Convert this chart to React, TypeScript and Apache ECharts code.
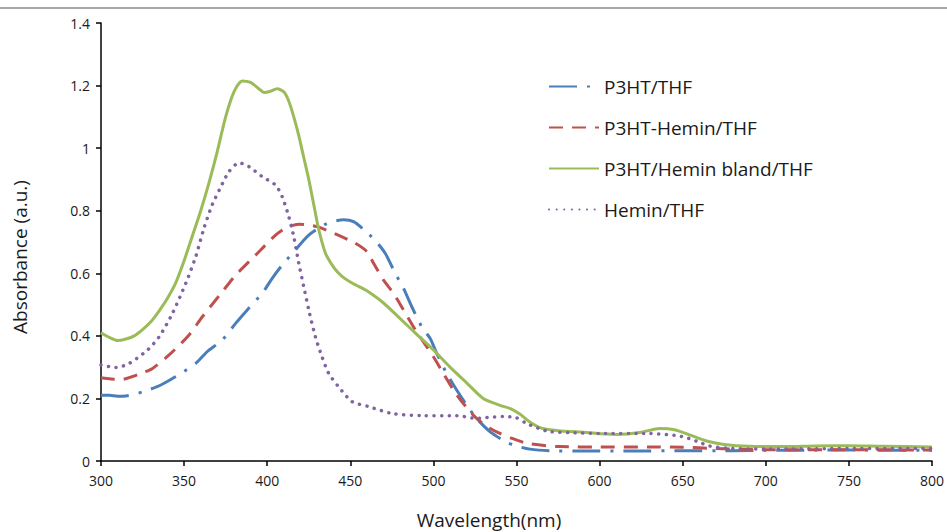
import React, { useEffect, useRef } from "react";
import * as echarts from "echarts";

const seriesNames = ["P3HT/THF", "P3HT-Hemin/THF", "P3HT/Hemin bland/THF", "Hemin/THF"];
const xTitle = "Wavelength(nm)";
const yTitle = "Absorbance (a.u.)";
const xTicks = { min: 300, max: 800, interval: 50 };
const yTicks = { min: 0, max: 1.4, interval: 0.2 };

const blueX = [300, 305, 310, 315, 320, 325, 330, 336, 345, 357, 364, 373, 381, 388, 397, 403, 409, 416, 425, 434, 440, 446, 452, 458, 465, 471, 477, 482, 487, 493, 498, 502, 508, 514, 520, 526, 534, 544, 550, 558, 570, 590, 620, 650, 680, 700, 750, 800];
const blueY = [0.21, 0.21, 0.207, 0.208, 0.213, 0.221, 0.23, 0.243, 0.27, 0.312, 0.35, 0.387, 0.44, 0.483, 0.536, 0.584, 0.626, 0.669, 0.722, 0.754, 0.766, 0.771, 0.765, 0.74, 0.705, 0.664, 0.6, 0.552, 0.493, 0.429, 0.392, 0.344, 0.28, 0.227, 0.179, 0.136, 0.094, 0.06, 0.048, 0.038, 0.033, 0.032, 0.032, 0.033, 0.033, 0.034, 0.035, 0.034];

const redX = [300, 306, 313, 319, 325, 331, 341, 353, 361, 373, 381, 393, 405, 411, 419, 430, 441, 453, 460, 464, 470, 476, 482, 488, 494, 500, 506, 512, 518, 526, 534, 540, 546, 556, 576, 600, 630, 650, 670, 700, 750, 800];
const redY = [0.266, 0.262, 0.261, 0.27, 0.282, 0.296, 0.339, 0.403, 0.461, 0.541, 0.594, 0.658, 0.722, 0.744, 0.757, 0.749, 0.726, 0.696, 0.669, 0.632, 0.578, 0.536, 0.483, 0.429, 0.381, 0.333, 0.28, 0.227, 0.184, 0.136, 0.105, 0.088, 0.075, 0.057, 0.046, 0.045, 0.045, 0.044, 0.04, 0.036, 0.036, 0.035];

const greenX = [300, 305, 310, 315, 320, 325, 330, 335, 340, 345, 350, 355, 360, 365, 370, 375, 380, 385, 390, 395, 398, 402, 406, 410, 413, 416, 419, 422, 425, 428, 431, 435, 438, 441, 445, 450, 455, 460, 470, 480, 490, 500, 510, 520, 530, 540, 546, 552, 558, 565, 575, 590, 610, 625, 636, 645, 655, 665, 675, 690, 710, 730, 750, 770, 800];
const greenY = [0.41, 0.395, 0.385, 0.39, 0.4, 0.42, 0.445, 0.48, 0.52, 0.57, 0.64, 0.72, 0.8, 0.89, 0.99, 1.1, 1.18, 1.215, 1.21, 1.19, 1.178, 1.182, 1.19, 1.18, 1.15, 1.1, 1.04, 0.97, 0.9, 0.82, 0.74, 0.665, 0.635, 0.612, 0.59, 0.572, 0.558, 0.544, 0.505, 0.455, 0.405, 0.355, 0.3, 0.25, 0.2, 0.178, 0.168, 0.15, 0.125, 0.105, 0.097, 0.092, 0.085, 0.092, 0.104, 0.1, 0.082, 0.063, 0.053, 0.047, 0.046, 0.048, 0.049, 0.047, 0.045];

const purpleX = [300, 309, 317, 328, 335, 343, 351, 357, 362, 367, 372, 377, 383, 389, 397, 405, 409, 413, 416, 419, 422, 425, 429, 433, 437, 443, 451, 461, 475, 494, 514, 526, 534, 542, 550, 556, 563, 570, 585, 600, 630, 645, 652, 660, 666, 680, 700, 750, 800];
const purpleY = [0.307, 0.299, 0.312, 0.355, 0.397, 0.472, 0.568, 0.653, 0.745, 0.82, 0.875, 0.925, 0.953, 0.941, 0.909, 0.882, 0.845, 0.781, 0.717, 0.632, 0.557, 0.483, 0.397, 0.333, 0.28, 0.237, 0.19, 0.174, 0.152, 0.145, 0.145, 0.136, 0.14, 0.142, 0.138, 0.12, 0.105, 0.094, 0.09, 0.088, 0.088, 0.082, 0.075, 0.06, 0.048, 0.04, 0.038, 0.04, 0.04];

const pairs = (xs: number[], ys: number[]) => xs.map((x, i) => [x, ys[i]]);

const font = "'Open Sans', 'Noto Sans', sans-serif";

export default function App() {
  const ref = useRef<HTMLDivElement>(null);
  useEffect(() => {
    if (!ref.current) return;
    const chart = echarts.init(ref.current, undefined, { renderer: "svg" });
    const mk = (name: string, xs: number[], ys: number[], color: string, type: any, width = 3, cap: any = "butt") => ({
      name,
      type: "line",
      data: pairs(xs, ys),
      smooth: 0.25,
      symbol: "none",
      lineStyle: { color, width, type, cap },
      itemStyle: { color },
    });
    chart.setOption({
      animation: false,
      backgroundColor: "#ffffff",
      grid: { left: 101, right: 15, top: 23, bottom: 71 },
      graphic: [
        { type: "rect", left: 0, top: 7, shape: { width: 947, height: 2 }, style: { fill: "#a6a6a6" }, silent: true },
        {
          type: "text",
          x: 489,
          y: 520,
          style: { text: xTitle, fontFamily: font, fontSize: 19, fill: "#1a1a1a", textAlign: "center", textVerticalAlign: "middle" },
          silent: true,
        },
        {
          type: "text",
          x: 20,
          y: 257,
          rotation: Math.PI / 2,
          style: { text: yTitle, fontFamily: font, fontSize: 19, fill: "#1a1a1a", textAlign: "center", textVerticalAlign: "middle" },
          silent: true,
        },
      ],
      legend: {
        orient: "vertical",
        left: 543,
        top: 72,
        itemWidth: 50,
        itemHeight: 20,
        itemGap: 22,
        data: seriesNames,
        itemStyle: { opacity: 0 },
        textStyle: { fontFamily: font, fontSize: 19, color: "#1a1a1a" },
      },
      xAxis: {
        type: "value",
        min: xTicks.min,
        max: xTicks.max,
        interval: xTicks.interval,
        axisLine: { lineStyle: { color: "#000", width: 1.5 } },
        axisTick: { length: 5, lineStyle: { color: "#000", width: 1.5 } },
        axisLabel: { fontFamily: font, fontSize: 14, color: "#1a1a1a", margin: 12 },
        splitLine: { show: false },
      },
      yAxis: {
        type: "value",
        min: yTicks.min,
        max: yTicks.max,
        interval: yTicks.interval,
        axisLine: { show: true, lineStyle: { color: "#000", width: 1.5 } },
        axisTick: { show: true, length: 5, lineStyle: { color: "#000", width: 1.5 } },
        axisLabel: { fontFamily: font, fontSize: 14, color: "#1a1a1a", margin: 11 },
        splitLine: { show: false },
      },
      series: [
        mk(seriesNames[0], blueX, blueY, "#4a7ebb", [28, 10, 3, 10]),
        mk(seriesNames[1], redX, redY, "#c0504d", [14, 9]),
        mk(seriesNames[2], greenX, greenY, "#9bbb59", "solid"),
        mk(seriesNames[3], purpleX, purpleY, "#8064a2", [0.1, 7.5], 3.5, "round"),
      ],
    });
    return () => chart.dispose();
  }, []);
  return <div ref={ref} style={{ position: "fixed", left: 0, top: 0, width: 947, height: 532 }} />;
}
